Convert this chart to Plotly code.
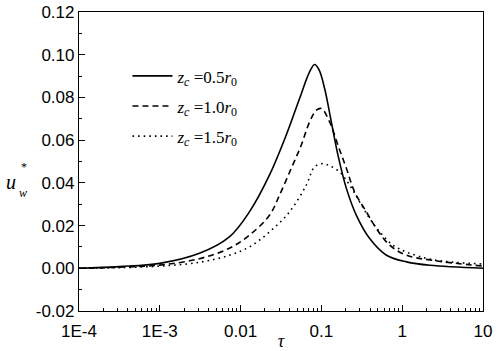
import plotly.graph_objects as go

# tau values and u_w* for each curve
tau_05 = [1e-4, 3.16e-4, 1e-3, 3.09e-3, 7.26e-3, 0.01285, 0.02275, 0.03664, 0.0537, 0.0714, 0.0824, 0.0933,
          0.1096, 0.1327, 0.1603, 0.2042, 0.271, 0.3963, 0.6383, 1.13, 2.2, 10.0]
u_05 = [0.000, 0.0008, 0.0023, 0.007, 0.0147, 0.0264, 0.0436, 0.0623, 0.0795, 0.092, 0.0954, 0.093,
        0.0842, 0.0685, 0.053, 0.0373, 0.0248, 0.0139, 0.0061, 0.003, 0.0014, 0.000]

tau_10 = [1e-4, 3.16e-4, 1e-3, 3.09e-3, 7.26e-3, 0.01285, 0.02275, 0.03027, 0.04236, 0.05623, 0.0714, 0.0865,
          0.1, 0.1265, 0.1603, 0.2042, 0.2582, 0.3606, 0.4797, 0.7015, 1.13, 2.4, 10.0]
u_10 = [0.000, 0.0005, 0.0015, 0.0045, 0.0094, 0.0155, 0.0248, 0.0342, 0.0468, 0.0576, 0.0685, 0.074,
        0.0748, 0.0685, 0.0576, 0.0467, 0.0357, 0.0264, 0.0186, 0.0108, 0.0061, 0.0037, 0.001]

tau_15 = [1e-4, 3.16e-4, 1e-3, 3.09e-3, 7.26e-3, 0.01285, 0.02275, 0.04027, 0.06486, 0.0824, 0.1035, 0.1265,
          0.1683, 0.2239, 0.2979, 0.3963, 0.5272, 0.7709, 1.13, 2.4, 10.0]
u_15 = [0.000, 0.0003, 0.001, 0.0028, 0.0061, 0.010, 0.017, 0.0264, 0.0389, 0.0475, 0.049, 0.048,
        0.0451, 0.0389, 0.031, 0.0233, 0.017, 0.0108, 0.0076, 0.004, 0.002]

names = ["<i>z</i><sub><i>c</i></sub> =0.5<i>r</i><sub>0</sub>",
         "<i>z</i><sub><i>c</i></sub> =1.0<i>r</i><sub>0</sub>",
         "<i>z</i><sub><i>c</i></sub> =1.5<i>r</i><sub>0</sub>"]

x_tickvals = [1e-4, 1e-3, 1e-2, 1e-1, 1, 10]
x_ticktext = ["1E-4", "1E-3", "0.01", "0.1", "1", "10"]
y_tickvals = [-0.02, 0.00, 0.02, 0.04, 0.06, 0.08, 0.10, 0.12]
y_ticktext = ["-0.02", "0.00", "0.02", "0.04", "0.06", "0.08", "0.10", "0.12"]

x_minor = [m * 10 ** e for e in range(-4, 1) for m in range(2, 10)]
y_minor = [-0.01, 0.01, 0.03, 0.05, 0.07, 0.09, 0.11]

fig = go.Figure()
styles = [None, "6px,4px", "1.6px,4px"]
for i, (tx, uy) in enumerate([(tau_05, u_05), (tau_10, u_10), (tau_15, u_15)]):
    line = dict(color="black", width=1.6, shape="spline", smoothing=1.0)
    if styles[i]:
        line["dash"] = styles[i]
    fig.add_trace(go.Scatter(x=tx, y=uy, mode="lines", name=names[i], legendgroup=f"g{i}", line=line))

axis_font = dict(family="Liberation Sans, Arial", size=17, color="black")
serif = "Liberation Serif, Times New Roman"

fig.update_layout(
    width=498, height=351,
    margin=dict(l=79, r=15, t=12, b=40, autoexpand=False),
    paper_bgcolor="white", plot_bgcolor="white",
    showlegend=True,
    legend=dict(x=0.12, y=0.845, xanchor="left", yanchor="top",
                bgcolor="rgba(0,0,0,0)", borderwidth=0,
                font=dict(family=serif, size=17, color="black"),
                itemwidth=40, tracegroupgap=5),
    xaxis=dict(type="log", range=[-4, 1], tickvals=x_tickvals, ticktext=x_ticktext,
               ticks="inside", ticklen=6, tickwidth=1, tickcolor="black",
               showline=True, linecolor="black", linewidth=1.2, mirror=True, automargin=False,
               showgrid=False, zeroline=False, tickfont=axis_font, ticklabelstandoff=4,
               minor=dict(tickvals=x_minor, ticks="inside", ticklen=3, tickcolor="black", showgrid=False),
               title=dict(text="<i>τ</i>", font=dict(family=serif, size=18, color="black"), standoff=5)),
    yaxis=dict(range=[-0.02, 0.12], tickvals=y_tickvals, ticktext=y_ticktext,
               ticks="inside", ticklen=6, tickwidth=1, tickcolor="black",
               showline=True, linecolor="black", linewidth=1.2, mirror=True, automargin=False,
               showgrid=False, zeroline=False, tickfont=axis_font,
               minor=dict(tickvals=y_minor, ticks="inside", ticklen=3, tickcolor="black", showgrid=False)),
)

fig.add_annotation(text="<i>u</i>", xref="paper", yref="paper", x=-0.15, y=0.43,
                   xanchor="right", showarrow=False, font=dict(family=serif, size=20, color="black"))
fig.add_annotation(text="<i>w</i>", xref="paper", yref="paper", x=-0.153, y=0.395,
                   xanchor="left", showarrow=False, font=dict(family=serif, size=12, color="black"))
fig.add_annotation(text="*", xref="paper", yref="paper", x=-0.148, y=0.48,
                   xanchor="left", showarrow=False, font=dict(family=serif, size=12, color="black"))

fig.write_html("out.html", config={"displayModeBar": False},
               post_script="document.body.style.margin='0';")
